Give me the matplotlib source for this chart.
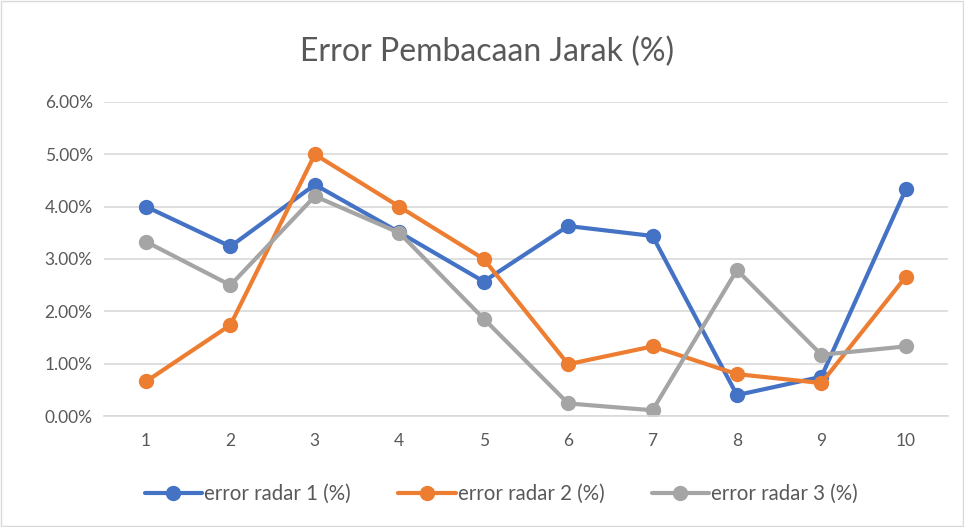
import matplotlib.pyplot as plt
from matplotlib.patches import Rectangle
from matplotlib.ticker import FuncFormatter

# data (percent)
titik = [1, 2, 3, 4, 5, 6, 7, 8, 9, 10]
radar1 = [4.00, 3.24, 4.42, 3.51, 2.57, 3.63, 3.44, 0.40, 0.75, 4.33]
radar2 = [0.66, 1.74, 5.00, 4.00, 3.00, 0.99, 1.33, 0.80, 0.63, 2.66]
radar3 = [3.33, 2.50, 4.20, 3.50, 1.86, 0.24, 0.11, 2.79, 1.17, 1.33]
labels = ['error radar 1 (%)', 'error radar 2 (%)', 'error radar 3 (%)']
colors = ['#4472C4', '#ED7D31', '#A5A5A5']

plt.rcParams['font.family'] = ['Lato', 'DejaVu Sans']

fig = plt.figure(figsize=(9.64, 5.27), dpi=100)
ax = fig.add_axes([0.1077, 0.2106, 0.8757, 0.5959])

for data, lab, c in zip([radar1, radar2, radar3], labels, colors):
    ax.plot(titik, data, color=c, lw=3, marker='o', markersize=10, label=lab,
            solid_capstyle='round')

ax.set_xlim(0.5, 10.5)
ax.set_ylim(0, 6)
ax.set_xticks(titik)
ax.set_yticks([0, 1, 2, 3, 4, 5, 6])
ax.yaxis.set_major_formatter(FuncFormatter(lambda v, p: f'{v:.2f}%'))
ax.grid(axis='y', color='#D9D9D9', lw=1.2)
ax.set_axisbelow(True)
for s in ['top', 'right', 'left']:
    ax.spines[s].set_visible(False)
ax.spines['bottom'].set_color('#D9D9D9')
ax.spines['bottom'].set_linewidth(1.2)
ax.tick_params(length=0, labelsize=12.5, colors='#595959', pad=12)
ax.tick_params(axis='y', pad=8)

fig.text(0.505, 0.902, 'Error Pembacaan Jarak (%)', ha='center', va='center',
         fontsize=23, color='#595959')

fig.legend(loc='center', bbox_to_anchor=(0.52, 0.063), ncol=3, frameon=False,
           fontsize=14.8, labelcolor='#595959', handlelength=2.8, handletextpad=0.1,
           columnspacing=2.3)

fig.add_artist(Rectangle((0.001, 0.002), 0.998, 0.996, transform=fig.transFigure,
                         fill=False, edgecolor='#D9D9D9', lw=1))

fig.savefig('out.png', dpi=100, facecolor='white')
